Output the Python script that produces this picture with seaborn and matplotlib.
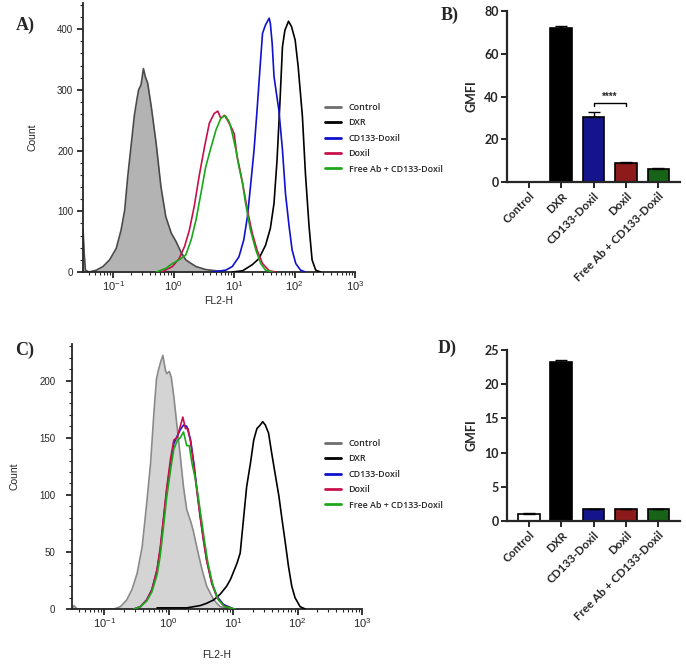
import numpy as np
import pandas as pd
import seaborn as sns
import matplotlib.pyplot as plt
from matplotlib.ticker import LogLocator, MultipleLocator, FixedLocator, NullFormatter
from matplotlib.lines import Line2D

# ---------------- data ----------------
groups = ["Control", "DXR", "CD133-Doxil", "Doxil", "Free Ab + CD133-Doxil"]

# panel A histograms: log10(FL2-H) and count
a_ctrl_log = [-1.50, -1.48, -1.46, -1.40, -1.28, -1.17, -1.06, -0.95, -0.87, -0.81, -0.76, -0.70,
              -0.65, -0.61, -0.58, -0.54, -0.50, -0.47, -0.43, -0.37, -0.29, -0.21, -0.13, -0.04,
              0.04, 0.12, 0.20, 0.29, 0.37, 0.53, 0.70, 0.86]
a_ctrl_cnt = [72, 30, 3, 0, 3, 9, 20, 39, 69, 102, 157, 212,
              258, 283, 300, 308, 335, 322, 311, 272, 212, 140, 91, 64,
              50, 33, 20, 14, 9, 4, 2, 0]
a_dxr_log = [0.97, 1.14, 1.30, 1.41, 1.52, 1.60, 1.66, 1.71, 1.76, 1.80, 1.84, 1.90, 1.95, 2.01,
             2.06, 2.13, 2.18, 2.24, 2.29, 2.35, 2.43]
a_dxr_cnt = [0, 2, 12, 22, 44, 72, 113, 184, 283, 371, 398, 413, 404, 382,
             338, 256, 162, 75, 20, 3, 0]
a_cd133_log = [0.64, 0.86, 0.97, 1.08, 1.16, 1.22, 1.27, 1.33, 1.38, 1.43, 1.47, 1.52, 1.58, 1.60,
               1.63, 1.66, 1.70, 1.74, 1.80, 1.85, 1.91, 1.96, 2.02, 2.10, 2.18]
a_cd133_cnt = [0, 3, 9, 25, 53, 91, 140, 201, 267, 338, 393, 407, 418, 409,
               376, 322, 294, 267, 201, 129, 75, 36, 14, 3, 0]
a_doxil_log = [-0.20, -0.02, 0.09, 0.18, 0.26, 0.34, 0.42, 0.51, 0.59, 0.67, 0.73, 0.78, 0.84,
               0.89, 0.95, 1.00, 1.05, 1.11, 1.16, 1.22, 1.30, 1.38, 1.47, 1.58, 1.69]
a_doxil_cnt = [0, 9, 22, 42, 69, 108, 157, 206, 245, 261, 265, 253, 258,
               250, 239, 228, 190, 162, 135, 102, 64, 36, 14, 2, 0]
a_free_log = [-0.29, -0.13, -0.02, 0.09, 0.20, 0.29, 0.37, 0.45, 0.53, 0.62, 0.70, 0.78, 0.82,
              0.86, 0.92, 0.97, 1.03, 1.08, 1.14, 1.19, 1.27, 1.36, 1.44, 1.52, 1.63]
a_free_cnt = [0, 6, 14, 20, 28, 53, 86, 129, 173, 206, 234, 253, 256,
              257, 247, 228, 201, 173, 146, 113, 69, 36, 14, 3, 0]

# panel C histograms
c_ctrl_log = [-1.50, -1.47, -1.42, -0.85, -0.75, -0.65, -0.57, -0.49, -0.41, -0.34, -0.28, -0.23,
              -0.19, -0.16, -0.12, -0.09, -0.05, -0.03, 0.01, 0.04, 0.08, 0.13, 0.18, 0.23,
              0.28, 0.34, 0.38, 0.41, 0.47, 0.52, 0.59, 0.70, 0.80, 0.96]
c_ctrl_cnt = [0, 3, 0, 0, 2, 8, 17, 31, 55, 93, 128, 171,
              201, 209, 217, 222, 209, 206, 208, 203, 186, 160, 134, 107,
              87, 77, 69, 61, 46, 34, 20, 8, 2, 0]
c_dxr_log = [-0.18, 0.28, 0.49, 0.59, 0.70, 0.80, 0.90, 0.96, 1.01, 1.06, 1.11, 1.16, 1.21, 1.27,
             1.32, 1.37, 1.42, 1.46, 1.50, 1.55, 1.60, 1.65, 1.71, 1.76, 1.81, 1.86, 1.91,
             1.96, 2.04, 2.12]
c_dxr_cnt = [1, 1, 3, 5, 8, 13, 20, 26, 33, 40, 49, 78, 107, 128,
             148, 158, 161, 164, 161, 154, 136, 119, 99, 78, 58, 37, 20,
             10, 2, 0]
c_cd133_log = [-0.54, -0.44, -0.34, -0.26, -0.18, -0.13, -0.08, -0.03, 0.03, 0.08, 0.13, 0.18,
               0.23, 0.28, 0.34, 0.39, 0.44, 0.49, 0.54, 0.59, 0.67, 0.75, 0.85, 1.01]
c_cd133_cnt = [0, 2, 8, 17, 34, 52, 78, 104, 128, 145, 151, 157,
               161, 160, 148, 128, 104, 81, 61, 43, 23, 11, 4, 0]
c_doxil_log = [-0.54, -0.44, -0.34, -0.26, -0.18, -0.13, -0.08, -0.03, 0.03, 0.08, 0.13, 0.18,
               0.22, 0.26, 0.30, 0.34, 0.39, 0.44, 0.49, 0.54, 0.59, 0.67, 0.75, 0.85, 1.01]
c_doxil_cnt = [0, 2, 8, 17, 35, 54, 80, 106, 132, 148, 150, 160,
               168, 158, 158, 146, 126, 102, 80, 60, 42, 22, 10, 3, 0]
c_free_log = [-0.54, -0.44, -0.34, -0.26, -0.18, -0.13, -0.08, -0.03, 0.03, 0.08, 0.13, 0.18,
              0.23, 0.28, 0.32, 0.36, 0.41, 0.46, 0.51, 0.56, 0.61, 0.69, 0.77, 0.87, 1.03]
c_free_cnt = [0, 2, 7, 15, 30, 47, 72, 98, 122, 140, 147, 150,
              155, 143, 143, 128, 115, 98, 78, 58, 40, 20, 8, 2, 0]

# GMFI bar values (mean, upper error)
b_gmfi = [0, 72.2, 30.5, 9.0, 6.3]
b_err = [0, 0.8, 2.3, 0.4, 0.4]
d_gmfi = [1.0, 23.3, 1.7, 1.7, 1.75]
d_err = [0.1, 0.2, 0.05, 0.05, 0.05]

line_colors = ["#6e6e6e", "#000000", "#1010d0", "#c8104a", "#1aa81a"]
bar_colors = ["#ffffff", "#000000", "#0000a0", "#a00808", "#0a700a"]

# ---------------- style ----------------
sns.set_style("ticks")
plt.rcParams["font.family"] = ["Liberation Sans", "DejaVu Sans"]
plt.rcParams["mathtext.fontset"] = "custom"
plt.rcParams["mathtext.rm"] = "Liberation Sans"
plt.rcParams["mathtext.it"] = "Liberation Sans"
BOLD = ["Lato", "DejaVu Sans"]

fig = plt.figure(figsize=(6.86, 6.64), dpi=100)
W, H = 686, 664


def px_axes(left, top, right, bottom):
    return fig.add_axes([left / W, 1 - bottom / H, (right - left) / W, (bottom - top) / H])


def histo(ax, curves, ctrl_fill, ctrl_edge, ymax, ymajor, yminor, xpad, ypad, ytickpad):
    for i, (lg, cnt) in enumerate(curves):
        x = 10 ** np.array(lg)
        if i == 0:
            ax.fill_between(x, cnt, color=ctrl_fill, lw=0, zorder=1)
            color = ctrl_edge
        else:
            color = line_colors[i]
        sns.lineplot(x=x, y=cnt, ax=ax, color=color, lw=1.2, zorder=2 + i, sort=False)
    ax.set_xscale("log")
    ax.set_xlim(10 ** -1.5, 10 ** 3)
    ax.set_ylim(0, ymax)
    ax.xaxis.set_major_locator(FixedLocator([0.1, 1, 10, 100, 1000]))
    ax.set_xticklabels(["$10^{-1}$", "$10^{0}$", "$10^{1}$", "$10^{2}$", "$10^{3}$"])
    ax.xaxis.set_minor_locator(LogLocator(base=10, subs=np.arange(2, 10)))
    ax.xaxis.set_minor_formatter(NullFormatter())
    ax.yaxis.set_major_locator(MultipleLocator(ymajor))
    ax.yaxis.set_minor_locator(MultipleLocator(yminor))
    ax.tick_params(axis="x", which="major", labelsize=8, length=4, width=1.3, pad=1.5)
    ax.tick_params(axis="y", which="major", labelsize=7, length=4, width=1.3, pad=ytickpad)
    ax.tick_params(axis="both", which="minor", length=2.5, width=0.8)
    for s in ["top", "right"]:
        ax.spines[s].set_visible(False)
    for s in ["left", "bottom"]:
        ax.spines[s].set_linewidth(1.3)
    ax.set_xlabel("FL2-H", fontsize=7.5, labelpad=xpad)
    ax.set_ylabel("Count", fontsize=7.5, labelpad=ypad)


def bars(ax, vals, errs, ymax, ystep):
    df = pd.DataFrame({"group": groups, "gmfi": vals})
    sns.barplot(data=df, x="group", y="gmfi", hue="group", palette=bar_colors, legend=False,
                width=0.67, edgecolor="black", linewidth=1.2, errorbar=None, ax=ax)
    ax.errorbar(range(len(groups)), vals, yerr=[np.zeros(len(errs)), errs], fmt="none",
                ecolor="black", elinewidth=1.0, capsize=4, capthick=1.0)
    ax.set_xlim(-0.68, 4.67)
    ax.set_ylim(0, ymax)
    ax.set_yticks(np.arange(0, ymax + 0.1, ystep))
    ax.set_xlabel("")
    ax.set_ylabel("GMFI", fontsize=9, fontweight="bold", family=BOLD, labelpad=5)
    sns.despine(ax=ax)
    for s in ["left", "bottom"]:
        ax.spines[s].set_linewidth(1.6)
    ax.tick_params(axis="both", length=4, width=1.4, pad=2)
    for lab in ax.get_yticklabels():
        lab.set_fontfamily(BOLD)
        lab.set_fontweight("bold")
        lab.set_fontsize(9)
    ax.set_xticks(range(len(groups)))
    ax.set_xticklabels(groups, rotation=45, ha="right", rotation_mode="anchor",
                       fontsize=8.3, fontweight="bold", family=BOLD)


# panel A
axA = px_axes(83, 3, 355, 272)
histo(axA, [(a_ctrl_log, a_ctrl_cnt), (a_dxr_log, a_dxr_cnt), (a_cd133_log, a_cd133_cnt),
            (a_doxil_log, a_doxil_cnt), (a_free_log, a_free_cnt)],
      "#b3b3b3", "#4a4a4a", 443, 100, 20, xpad=2, ypad=14, ytickpad=3)

# panel C
axC = px_axes(72, 344, 362, 609)
histo(axC, [(c_ctrl_log, c_ctrl_cnt), (c_dxr_log, c_dxr_cnt), (c_cd133_log, c_cd133_cnt),
            (c_doxil_log, c_doxil_cnt), (c_free_log, c_free_cnt)],
      "#d4d4d4", "#8a8a8a", 232, 50, 10, xpad=14, ypad=14, ytickpad=8)

# legends
handles = [Line2D([], [], color=c, lw=2) for c in line_colors]
for top in (103, 439):
    fig.legend(handles, groups, loc="upper left", bbox_to_anchor=(325 / W, 1 - top / H),
               frameon=False, borderpad=0, borderaxespad=0, handlelength=1.75,
               handletextpad=0.9, labelspacing=0.72,
               prop={"family": ["Open Sans", "DejaVu Sans"], "weight": "semibold", "size": 6.4})

# panel B
axB = px_axes(507, 11, 680, 182)
bars(axB, b_gmfi, b_err, 80, 20)
axB.plot([2, 2, 3, 3], [35.5, 37, 37, 35.5], color="black", lw=1.0)
axB.text(2.5, 37.5, "****", ha="center", va="bottom", fontsize=7, fontweight="bold")

# panel D
axD = px_axes(507, 350, 680, 521)
bars(axD, d_gmfi, d_err, 25, 5)

# panel letters
for lbl, x, y in [("A)", 25, 25), ("B)", 450, 15), ("C)", 25, 350), ("D)", 447, 348)]:
    fig.text(x / W, 1 - y / H, lbl, ha="center", va="center", fontsize=13, fontweight="bold",
             family=["Liberation Serif", "DejaVu Serif"])

fig.savefig("out.png", dpi=100)
